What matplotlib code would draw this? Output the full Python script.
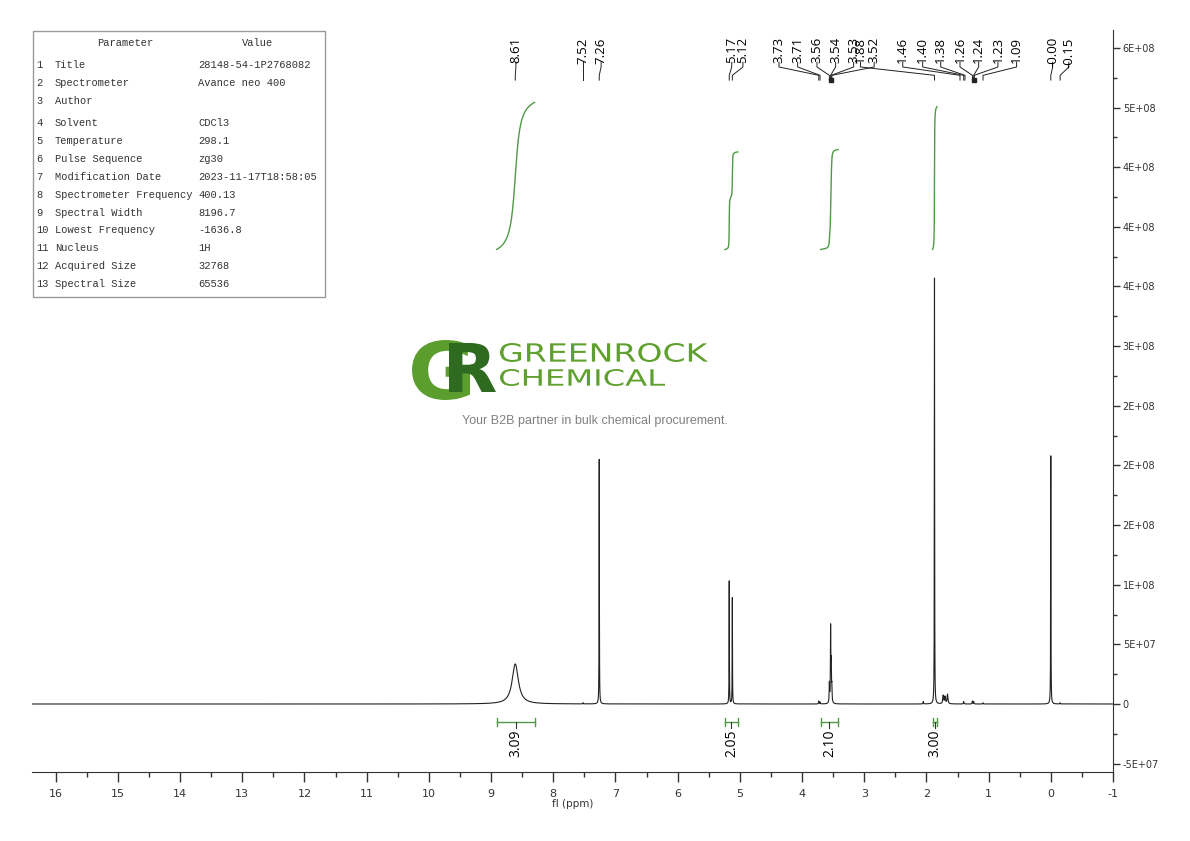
import numpy as np
import matplotlib
matplotlib.use('Agg')
import matplotlib.pyplot as plt
from matplotlib.ticker import FixedLocator, FuncFormatter
from matplotlib.textpath import TextPath
from matplotlib.font_manager import FontProperties
from matplotlib.patches import PathPatch, Rectangle
from matplotlib.transforms import Affine2D

# ---------------------------------------------------------------- data
# peak list: shift (ppm), height, half width (ppm)
peak_ppm = [8.61, 7.52, 7.26, 5.17, 5.12, 3.73, 3.71, 3.56, 3.54, 3.53, 3.52,
            2.05, 1.87, 1.73, 1.70, 1.66, 1.40, 1.26, 1.24, 1.09, 0.00, -0.15]
peak_height = [3.36e7, 1.0e6, 2.05e8, 1.03e8, 8.9e7, 2.5e6, 1.5e6, 1.6e7, 6.2e7, 3.0e7, 1.2e7,
               2.0e6, 3.57e8, 7.0e6, 6.0e6, 8.0e6, 2.0e6, 2.5e6, 2.0e6, 1.0e6, 2.08e8, 1.0e6]
peak_hwhm = [0.06, 0.003, 0.0025, 0.0025, 0.0025, 0.004, 0.004, 0.004, 0.004, 0.004, 0.004,
             0.004, 0.0025, 0.008, 0.008, 0.008, 0.005, 0.004, 0.004, 0.004, 0.0025, 0.004]

# peak labels shown on top
label_text = ['8.61', '7.52', '7.26', '5.17', '5.12', '3.73', '3.71', '3.56', '3.54', '3.53',
              '1.88', '3.52', '1.46', '1.40', '1.38', '1.26', '1.24', '1.23', '1.09', '-0.00', '-0.15']
label_target = [8.61, 7.52, 7.26, 5.17, 5.12, 3.73, 3.71, 3.56, 3.54, 3.53,
                1.87, 3.52, 1.46, 1.40, 1.38, 1.26, 1.24, 1.23, 1.09, 0.00, -0.15]

# integrals: region start/end (ppm) and value
int_start = [8.91, 5.24, 3.70, 1.90]
int_end = [8.30, 5.03, 3.42, 1.83]
int_value = [3.09, 2.05, 2.10, 3.00]

x_ticks = list(range(16, -2, -1))
y_ticks = [i * 5e7 for i in range(-1, 12)]

table_params = ['Title', 'Spectrometer', 'Author', 'Solvent', 'Temperature', 'Pulse Sequence',
                'Modification Date', 'Spectrometer Frequency', 'Spectral Width',
                'Lowest Frequency', 'Nucleus', 'Acquired Size', 'Spectral Size']
table_values = ['28148-54-1P2768082', 'Avance neo 400', '', 'CDCl3', '298.1', 'zg30',
                '2023-11-17T18:58:05', '400.13', '8196.7', '-1636.8', '1H', '32768', '65536']

# ---------------------------------------------------------------- layout
W, H = 1190, 841
fig = plt.figure(figsize=(W / 100, H / 100), dpi=100)
ax = fig.add_axes([32 / W, 69 / H, (1113 - 32) / W, (772 - 30) / H])

narrow = ['Liberation Sans Narrow', 'DejaVu Sans']
lab_font = ['Open Sans', 'DejaVu Sans']
green = '#4f9a45'

# label x positions (ppm), spread out like the original
label_x = [8.60, 7.52, 7.23, 5.13, 4.95, 4.37, 4.07, 3.76, 3.46, 3.17,
           3.06, 2.84, 2.38, 2.06, 1.77, 1.46, 1.16, 0.85, 0.55, -0.03, -0.29]

# ---------------------------------------------------------------- spectrum
x = np.arange(-1.0, 16.38, 0.0005)
spec = np.zeros_like(x)
for p, h, w in zip(peak_ppm, peak_height, peak_hwhm):
    spec += h * w ** 2 / ((x - p) ** 2 + w ** 2)
ax.plot(x, spec, color='#222222', lw=0.8)

# integral curves + brackets
base, unit = 3.81e8, 3.99e7
yb, yb2 = -1.51e7, -2.0e7
for s, e, v in zip(int_start, int_end, int_value):
    m = (x <= s) & (x >= e)
    xs = x[m][::-1]
    cum = np.cumsum(spec[m][::-1])
    cum = cum / cum[-1]
    ax.plot(xs, base + v * unit * cum, color=green, lw=1.0)
    mid = (s + e) / 2
    ax.plot([s, e], [yb, yb], color=green, lw=1.0)
    ax.plot([s, s], [yb - 3.4e6, yb + 3.4e6], color=green, lw=1.0)
    ax.plot([e, e], [yb - 3.4e6, yb + 3.4e6], color=green, lw=1.0)
    ax.plot([mid, mid], [yb, yb2], color='#333333', lw=0.8)
    ax.text(mid, yb2 - 0.1e7, '%.2f' % v, rotation=90, ha='center', va='top',
            fontsize=10, family=lab_font)

# peak labels
y_txt, y_a, y_b, y_c, y_d = 5.59e8, 5.38e8, 5.34e8, 5.27e8, 5.23e8
for t, lx, tx in zip(label_text, label_x, label_target):
    ax.text(lx, y_txt, t, rotation=90, ha='center', va='top', fontsize=9.5, family=lab_font)
    ax.plot([lx, lx, tx, tx], [y_a, y_b, y_c, y_d], color='#222222', lw=0.7)
ax.plot([3.54, 1.24], [y_d, y_d], ls='none', marker='s', ms=2.5, color='#222222')

# ---------------------------------------------------------------- axes
ax.set_xlim(16.38, -1.0)
ax.set_ylim(-5.7e7, 5.65e8)
for side in ['left', 'top']:
    ax.spines[side].set_visible(False)
ax.spines['bottom'].set_color('#333333')
ax.spines['right'].set_color('#333333')

ax.xaxis.set_major_locator(FixedLocator(x_ticks))
ax.xaxis.set_minor_locator(FixedLocator([t - 0.5 for t in x_ticks]))
ax.xaxis.set_major_formatter(FuncFormatter(lambda v, p: '%d' % round(v)))
ax.tick_params(axis='x', which='major', direction='out', length=7, width=1, pad=5,
               labelsize=8, colors='#333333')
ax.tick_params(axis='x', which='minor', direction='out', length=3.5, width=1, colors='#333333')

ax.yaxis.tick_right()
ax.yaxis.set_major_locator(FixedLocator(y_ticks))
ax.yaxis.set_minor_locator(FixedLocator([t + 2.5e7 for t in y_ticks[:-1]]))
ax.yaxis.set_major_formatter(FuncFormatter(lambda v, p: '0' if abs(v) < 1 else '%.0E' % v))
ax.tick_params(axis='y', which='major', direction='out', length=5, width=1, pad=2,
               labelsize=7, colors='#333333')
ax.tick_params(axis='y', which='minor', direction='out', length=3, width=1, colors='#333333')
for lab in ax.get_xticklabels() + ax.get_yticklabels():
    lab.set_family(narrow)

ax.set_xlabel('fl (ppm)', fontsize=7.5, family=narrow, labelpad=0, color='#333333')

# ---------------------------------------------------------------- parameter table
def fx(px):
    return px / W

def fy(py):
    return 1 - py / H

fig.add_artist(Rectangle((fx(33), fy(297)), fx(325) - fx(33), fy(31) - fy(297),
                         transform=fig.transFigure, fill=False, edgecolor='#9a9a9a', lw=1))
mono = ['Liberation Mono', 'DejaVu Sans Mono']
fig.text(fx(125), fy(43), 'Parameter', ha='center', va='center', fontsize=7.5, family=mono, color='#333333')
fig.text(fx(258), fy(43), 'Value', ha='center', va='center', fontsize=7.5, family=mono, color='#333333')
for i, (pname, pval) in enumerate(zip(table_params, table_values)):
    yy = 65 + 18 * i + (4 if i >= 3 else 0) - (i - 3) * 0.1 * (i >= 3)
    fig.text(fx(36), fy(yy), str(i + 1), ha='left', va='center', fontsize=7.5, family=mono, color='#333333')
    fig.text(fx(55), fy(yy), pname, ha='left', va='center', fontsize=7.5, family=mono, color='#333333')
    fig.text(fx(198), fy(yy), pval, ha='left', va='center', fontsize=7.5, family=mono, color='#333333')

# ---------------------------------------------------------------- watermark logo
def path_text(s, x0, x1, ytop, ybot, color, weight='normal'):
    tp = TextPath((0, 0), s, size=10, prop=FontProperties(family='DejaVu Sans', weight=weight))
    ext = tp.get_extents()
    tr = Affine2D().translate(-ext.x0, -ext.y0).scale((x1 - x0) / ext.width,
                                                       (ybot - ytop) / ext.height).translate(x0, H - ybot)
    fig.add_artist(PathPatch(tp, transform=tr, facecolor=color, edgecolor='none'))

path_text('G', 412, 470, 340, 400, '#5c9e2e', 'bold')
path_text('R', 449, 496, 343, 392, '#2f6a21', 'bold')
path_text('GREENROCK', 500, 708, 343, 362, '#5fa02f')
path_text('CHEMICAL', 500, 665, 369, 386, '#5fa02f')
fig.text(fx(595), fy(421), 'Your B2B partner in bulk chemical procurement.', ha='center', va='center',
         fontsize=9, family=['Liberation Sans', 'DejaVu Sans'], color='#808080')

fig.savefig('out.png', dpi=100)
